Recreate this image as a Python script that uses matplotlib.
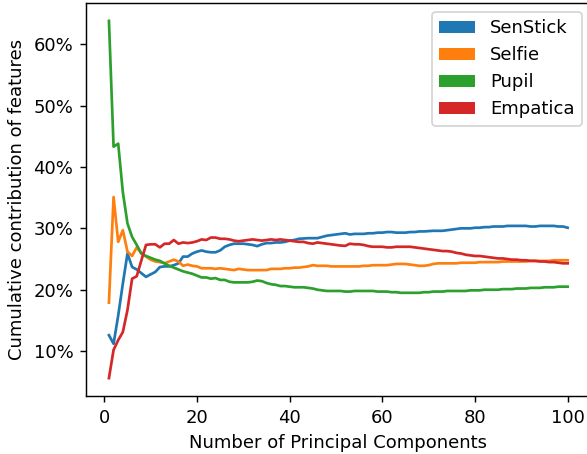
import matplotlib
matplotlib.use("Agg")
import matplotlib.pyplot as plt
from matplotlib.patches import Patch
from matplotlib.ticker import PercentFormatter, MultipleLocator

components = list(range(1, 101))

senstick = [12.6, 11.2, 15.8, 21.0, 25.9, 23.7, 23.3, 22.7, 22.1, 22.5,
            22.9, 23.7, 23.8, 23.8, 24.0, 24.3, 25.4, 25.4, 25.9, 26.2,
            26.4, 26.2, 26.1, 26.1, 26.4, 27.0, 27.3, 27.5, 27.5, 27.5,
            27.4, 27.3, 27.1, 27.4, 27.6, 27.6, 27.7, 27.7, 27.8, 28.0,
            28.1, 28.3, 28.35, 28.4, 28.4, 28.4, 28.6, 28.8, 28.9, 29.0,
            29.1, 29.2, 29.0, 29.1, 29.1, 29.1, 29.2, 29.2, 29.3, 29.3,
            29.4, 29.4, 29.3, 29.3, 29.3, 29.4, 29.4, 29.5, 29.5, 29.55,
            29.6, 29.6, 29.6, 29.7, 29.8, 29.9, 30.0, 30.0, 30.0, 30.1,
            30.1, 30.2, 30.2, 30.3, 30.3, 30.3, 30.4, 30.4, 30.4, 30.4,
            30.4, 30.3, 30.3, 30.4, 30.4, 30.4, 30.4, 30.3, 30.3, 30.1]

selfie = [17.9, 35.1, 27.8, 29.7, 26.2, 25.5, 26.9, 25.9, 25.4, 24.9,
          24.6, 24.5, 24.3, 24.6, 24.9, 24.6, 23.9, 24.1, 23.9, 23.8,
          23.5, 23.5, 23.5, 23.4, 23.5, 23.4, 23.3, 23.2, 23.4, 23.3,
          23.2, 23.2, 23.2, 23.2, 23.2, 23.4, 23.4, 23.4, 23.5, 23.5,
          23.6, 23.6, 23.7, 23.8, 24.0, 23.9, 23.9, 23.9, 23.8, 23.8,
          23.8, 23.8, 23.8, 23.8, 23.8, 23.9, 23.9, 24.0, 24.0, 24.0,
          24.0, 24.1, 24.2, 24.2, 24.2, 24.1, 24.0, 23.9, 23.9, 24.0,
          24.2, 24.3, 24.3, 24.3, 24.3, 24.3, 24.4, 24.4, 24.4, 24.4,
          24.5, 24.5, 24.5, 24.5, 24.5, 24.6, 24.6, 24.6, 24.6, 24.6,
          24.6, 24.7, 24.7, 24.7, 24.7, 24.7, 24.8, 24.8, 24.8, 24.8]

pupil = [63.8, 43.3, 43.8, 35.9, 30.8, 28.6, 27.3, 25.9, 25.5, 25.2,
         24.9, 24.7, 24.3, 23.9, 23.6, 23.3, 23.0, 22.8, 22.6, 22.3,
         22.0, 22.0, 21.8, 21.9, 21.6, 21.6, 21.3, 21.2, 21.2, 21.2,
         21.2, 21.3, 21.5, 21.4, 21.1, 20.9, 20.8, 20.6, 20.6, 20.5,
         20.4, 20.4, 20.4, 20.3, 20.2, 20.0, 19.9, 19.8, 19.8, 19.8,
         19.8, 19.7, 19.7, 19.8, 19.8, 19.8, 19.8, 19.8, 19.7, 19.7,
         19.7, 19.6, 19.6, 19.5, 19.5, 19.5, 19.5, 19.5, 19.6, 19.6,
         19.7, 19.7, 19.7, 19.8, 19.8, 19.8, 19.8, 19.8, 19.9, 19.9,
         19.9, 20.0, 20.0, 20.0, 20.0, 20.1, 20.1, 20.1, 20.2, 20.2,
         20.2, 20.3, 20.3, 20.3, 20.4, 20.4, 20.4, 20.5, 20.5, 20.5]

empatica = [5.6, 10.2, 11.8, 13.1, 16.7, 21.8, 22.2, 24.8, 27.3, 27.4,
            27.4, 26.9, 27.5, 27.5, 28.1, 27.5, 27.7, 27.6, 27.7, 27.9,
            28.2, 28.1, 28.5, 28.5, 28.3, 28.3, 28.2, 28.0, 27.9, 28.0,
            28.1, 28.2, 28.1, 28.0, 28.1, 28.2, 28.1, 28.2, 28.1, 28.0,
            27.9, 27.8, 27.8, 27.6, 27.5, 27.7, 27.6, 27.5, 27.4, 27.3,
            27.2, 27.15, 27.5, 27.4, 27.4, 27.3, 27.1, 27.0, 27.0, 27.0,
            26.9, 26.9, 27.0, 27.0, 27.0, 27.0, 26.9, 26.8, 26.7, 26.6,
            26.5, 26.4, 26.3, 26.3, 26.2, 26.0, 25.9, 25.7, 25.6, 25.5,
            25.5, 25.4, 25.3, 25.2, 25.1, 25.1, 25.0, 24.9, 24.9, 24.8,
            24.8, 24.7, 24.7, 24.6, 24.6, 24.5, 24.5, 24.4, 24.3, 24.3]

series_names = ["SenStick", "Selfie", "Pupil", "Empatica"]
series_values = [senstick, selfie, pupil, empatica]
colors = ["#1f77b4", "#ff7f0e", "#2ca02c", "#d62728"]

DPI = 130
fig = plt.figure(figsize=(587 / DPI, 454 / DPI), dpi=DPI)
W, H = 587, 454
left, right, top, bottom = 86, 590.6, 3, 396
ax = fig.add_axes([left / W, 1 - bottom / H, (right - left) / W, (bottom - top) / H])

for name, vals, c in zip(series_names, series_values, colors):
    ax.plot(components, vals, color=c, linewidth=1.5, label=name)

ax.yaxis.set_major_locator(MultipleLocator(10))
ax.yaxis.set_major_formatter(PercentFormatter(decimals=0))
ax.set_xlabel("Number of Principal Components")
ax.set_ylabel("Cumulative contribution of features")

handles = [Patch(facecolor=c, label=n) for n, c in zip(series_names, colors)]
ax.legend(handles=handles, loc="upper right")

fig.savefig("out.png", dpi=DPI)
